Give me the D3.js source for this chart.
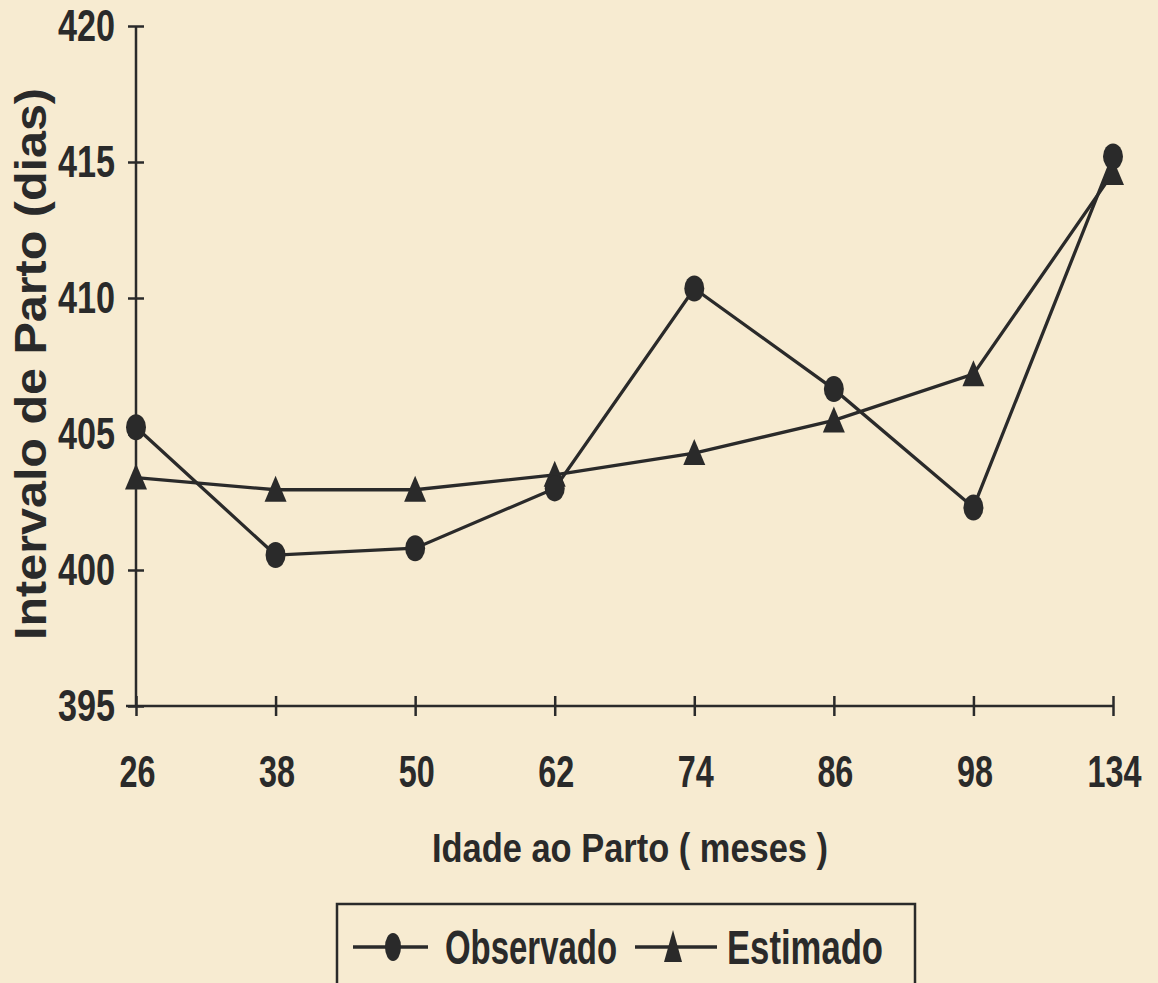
<!DOCTYPE html>
<html>
<head>
<meta charset="utf-8">
<script src="https://cdn.jsdelivr.net/npm/d3@7"></script>
<style>
  body { margin: 0; background: #f7ebd1; }
  text { font-family: "Liberation Sans", Arial, sans-serif; font-weight: bold; fill: #2a2a2a; }
</style>
</head>
<body>
<div id="chart"></div>
<script>
// data
const ages = ["26", "38", "50", "62", "74", "86", "98", "134"];
const observado = [405.25, 400.55, 400.8, 403.0, 410.35, 406.65, 402.3, 415.2];
const estimado = [403.4, 402.95, 402.95, 403.5, 404.3, 405.5, 407.2, 414.6];
const yTicks = [395, 400, 405, 410, 415, 420];

const W = 1158, H = 983;
const ink = "#2a2a2a";

const svg = d3.select("#chart").append("svg")
    .attr("width", W)
    .attr("height", H);

svg.append("rect").attr("width", W).attr("height", H).attr("fill", "#f7ebd1");

const x = d3.scalePoint()
    .domain(ages)
    .range([136, 1113]);

const y = d3.scaleLinear()
    .domain([395, 420])
    .range([706, 26]);

// squeezed text like the scanned original
function squeeze(sel, perChar) {
    sel.attr("lengthAdjust", "spacingAndGlyphs")
       .attr("textLength", function () { return this.textContent.length * perChar; });
}

// y axis
const yAxis = svg.append("g")
    .attr("transform", "translate(136,0)")
    .call(d3.axisLeft(y).tickValues(yTicks).tickSize(8).tickPadding(13));
yAxis.select(".domain").attr("stroke", ink).attr("stroke-width", 2.5).attr("d", `M0,${y(420)}V${y(395)}`);
yAxis.selectAll(".tick line").attr("stroke", ink).attr("stroke-width", 2.5).attr("x1", 8);
yAxis.selectAll(".tick text")
    .style("font-size", "44px")
    .attr("fill", ink)
    .call(squeeze, 19);

// x axis
const xAxis = svg.append("g")
    .attr("transform", `translate(0,${y(395)})`)
    .call(d3.axisBottom(x).tickSize(10).tickPadding(0));
xAxis.select(".domain").attr("stroke", ink).attr("stroke-width", 2.5).attr("d", `M126,0H1113`);
xAxis.selectAll(".tick line").attr("stroke", ink).attr("stroke-width", 2.5).attr("y1", -10);
xAxis.selectAll(".tick text")
    .style("font-size", "44px")
    .attr("fill", ink)
    .attr("x", 0)
    .attr("y", 0)
    .attr("dy", null)
    .attr("transform", "translate(1,81) scale(0.735,1)");

// axis titles
svg.append("text")
    .attr("transform", "translate(46,364) rotate(-90)")
    .attr("text-anchor", "middle")
    .style("font-size", "44px")
    .attr("lengthAdjust", "spacingAndGlyphs")
    .attr("textLength", 552)
    .text("Intervalo de Parto (dias)");

svg.append("text")
    .attr("x", 630)
    .attr("y", 862)
    .attr("text-anchor", "middle")
    .style("font-size", "40px")
    .attr("lengthAdjust", "spacingAndGlyphs")
    .attr("textLength", 396)
    .text("Idade ao Parto ( meses )");

// lines
const line = d3.line()
    .x((d, i) => x(ages[i]))
    .y(d => y(d));

svg.append("path").datum(estimado)
    .attr("fill", "none").attr("stroke", ink).attr("stroke-width", 3.3)
    .attr("d", line);
svg.append("path").datum(observado)
    .attr("fill", "none").attr("stroke", ink).attr("stroke-width", 3.3)
    .attr("d", line);

const tri = "M0,-14L11,12L-11,12Z";

svg.selectAll(".tri").data(estimado).enter().append("path")
    .attr("class", "tri")
    .attr("d", tri)
    .attr("transform", (d, i) => `translate(${x(ages[i])},${y(d)})`)
    .attr("fill", ink);

svg.selectAll(".dot").data(observado).enter().append("ellipse")
    .attr("class", "dot")
    .attr("cx", (d, i) => x(ages[i]))
    .attr("cy", d => y(d))
    .attr("rx", 10).attr("ry", 13)
    .attr("fill", ink);

// legend
const leg = svg.append("g");
leg.append("rect")
    .attr("x", 337).attr("y", 904)
    .attr("width", 578).attr("height", 95)
    .attr("fill", "none").attr("stroke", ink).attr("stroke-width", 2.5);

leg.append("line").attr("x1", 353).attr("x2", 428).attr("y1", 947).attr("y2", 947)
    .attr("stroke", ink).attr("stroke-width", 3.3);
leg.append("ellipse").attr("cx", 393).attr("cy", 947).attr("rx", 8).attr("ry", 14).attr("fill", ink);
leg.append("text").attr("x", 445).attr("y", 964)
    .style("font-size", "48px")
    .attr("lengthAdjust", "spacingAndGlyphs")
    .attr("textLength", 172)
    .text("Observado");

leg.append("line").attr("x1", 635).attr("x2", 717).attr("y1", 947).attr("y2", 947)
    .attr("stroke", ink).attr("stroke-width", 3.3);
leg.append("path").attr("d", "M0,-17L9,15L-9,15Z").attr("transform", "translate(673,947)").attr("fill", ink);
leg.append("text").attr("x", 727).attr("y", 964)
    .style("font-size", "48px")
    .attr("lengthAdjust", "spacingAndGlyphs")
    .attr("textLength", 156)
    .text("Estimado");
</script>
</body>
</html>
